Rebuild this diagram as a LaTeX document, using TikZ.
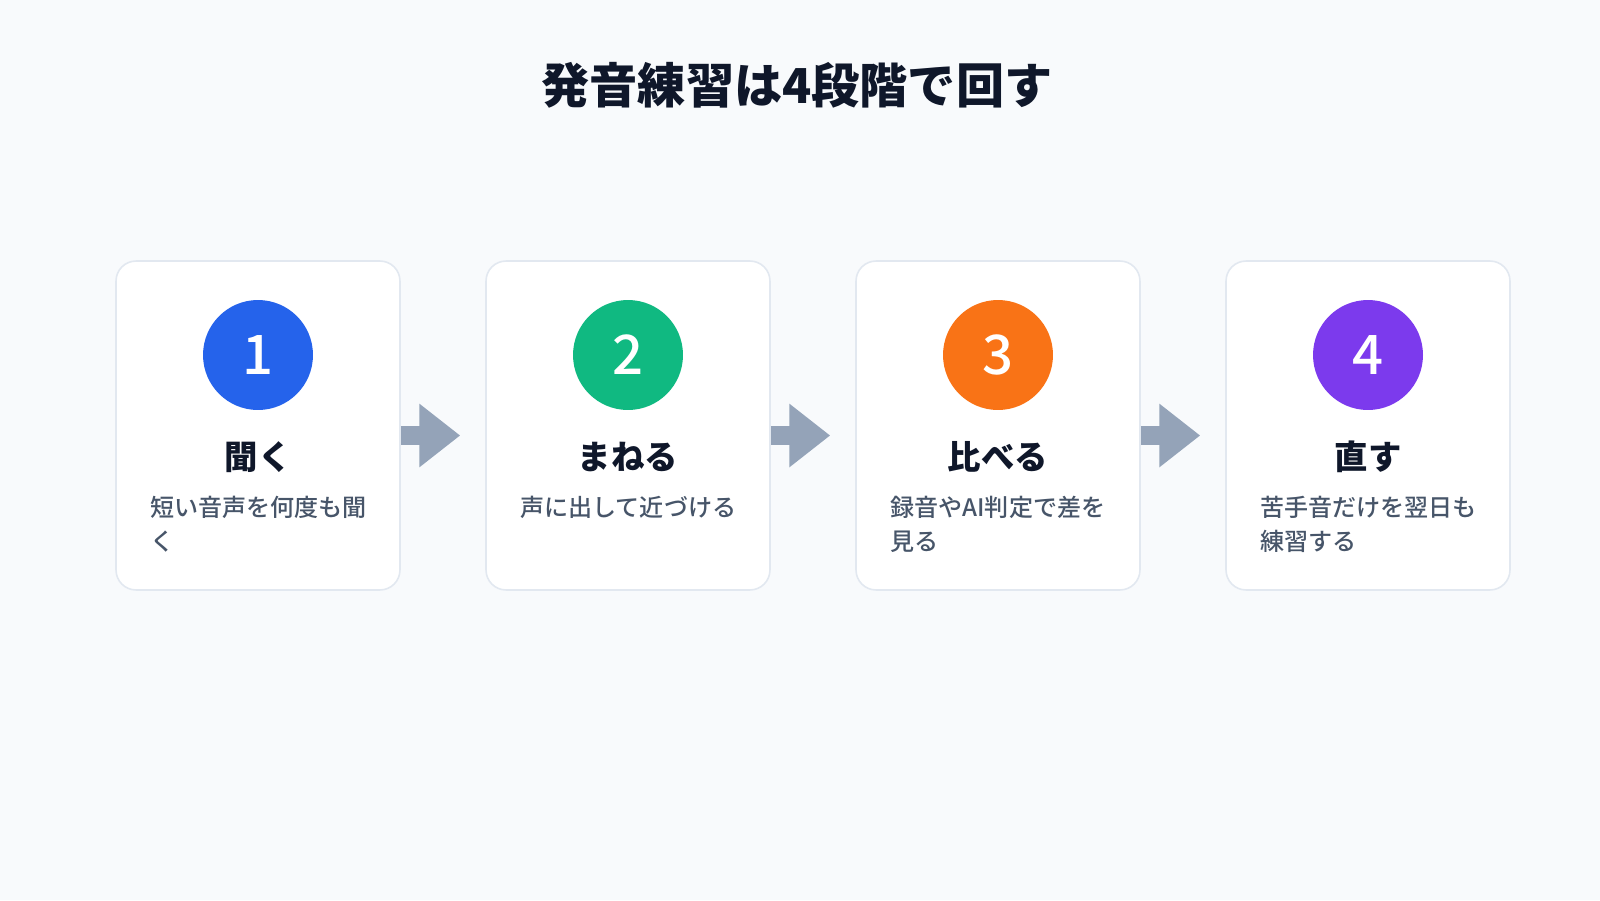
\documentclass[tikz,border=0pt]{standalone}
\usepackage{fontspec}
\usepackage{xcolor}
\usetikzlibrary{arrows.meta}
\newfontfamily\jpfont{Noto Sans CJK JP}
\newfontfamily\jpmed{Noto Sans CJK JP Medium}
\definecolor{pagebg}{HTML}{F8FAFC}
\definecolor{cardline}{HTML}{E2E8F0}
\definecolor{flowgrey}{HTML}{94A3B8}
\definecolor{titleink}{HTML}{0F172A}
\definecolor{noteink}{HTML}{475569}
\definecolor{stepblue}{HTML}{2563EB}
\definecolor{stepgreen}{HTML}{10B981}
\definecolor{steporange}{HTML}{F97316}
\definecolor{steppurple}{HTML}{7C3AED}
\def\cardw{5.68cm}
\def\cardh{6.58cm}

\begin{document}
\begin{tikzpicture}[x=0.02cm, y=-0.02cm, font=\jpfont,
  card/.style={draw=cardline, line width=0.9pt, fill=white, rounded corners=0.4cm,
    minimum width=\cardw, minimum height=\cardh, inner sep=0},
  numdot/.style={circle, fill=#1, minimum size=2.2cm, inner sep=0, text=white,
    font=\jpmed\fontsize{31}{31}\selectfont},
  stepname/.style={text=titleink, inner sep=0, font=\jpfont\bfseries\fontsize{19}{19}\selectfont},
  stepnote/.style={text=noteink, anchor=north west, align=left, inner sep=0,
    font=\jpmed\fontsize{13.7}{19.3}\selectfont},
  flow/.style={draw=flowgrey, line width=10.8pt, -{Triangle[length=23.3pt, width=34.7pt]}, shorten >=0.5cm}]
	\fill[pagebg] (0,0) rectangle (1600,900);
	\node[text=titleink, font=\jpfont\bfseries\fontsize{27.4}{27.4}\selectfont] (title) at (797,85) {発音練習は4段階で回す};

	\node[card] (card1) at (258,425.5) {};
	\node[card] (card2) at (628,425.5) {};
	\node[card] (card3) at (998,425.5) {};
	\node[card] (card4) at (1368,425.5) {};

	\node[numdot=stepblue] (num1) at (258,355) {1};
	\node[numdot=stepgreen] (num2) at (628,355) {2};
	\node[numdot=steporange] (num3) at (998,355) {3};
	\node[numdot=steppurple] (num4) at (1368,355) {4};

	\node[stepname] (name1) at (258,457) {聞く};
	\node[stepname] (name2) at (628,457) {まねる};
	\node[stepname] (name3) at (998,457) {比べる};
	\node[stepname] (name4) at (1368,457) {直す};

	\node[stepnote] (note1) at (150,496) {短い音声を何度も聞\\く};
	\node[stepnote] (note2) at (520,496) {声に出して近づける};
	\node[stepnote] (note3) at (890,496) {録音やAI判定で差を\\見る};
	\node[stepnote] (note4) at (1260,496) {苦手音だけを翌日も\\練習する};

	\draw[flow] ([yshift=-0.2cm]card1.east) -- ([yshift=-0.2cm]card2.west);
	\draw[flow] ([yshift=-0.2cm]card2.east) -- ([yshift=-0.2cm]card3.west);
	\draw[flow] ([yshift=-0.2cm]card3.east) -- ([yshift=-0.2cm]card4.west);
\end{tikzpicture}
\end{document}
